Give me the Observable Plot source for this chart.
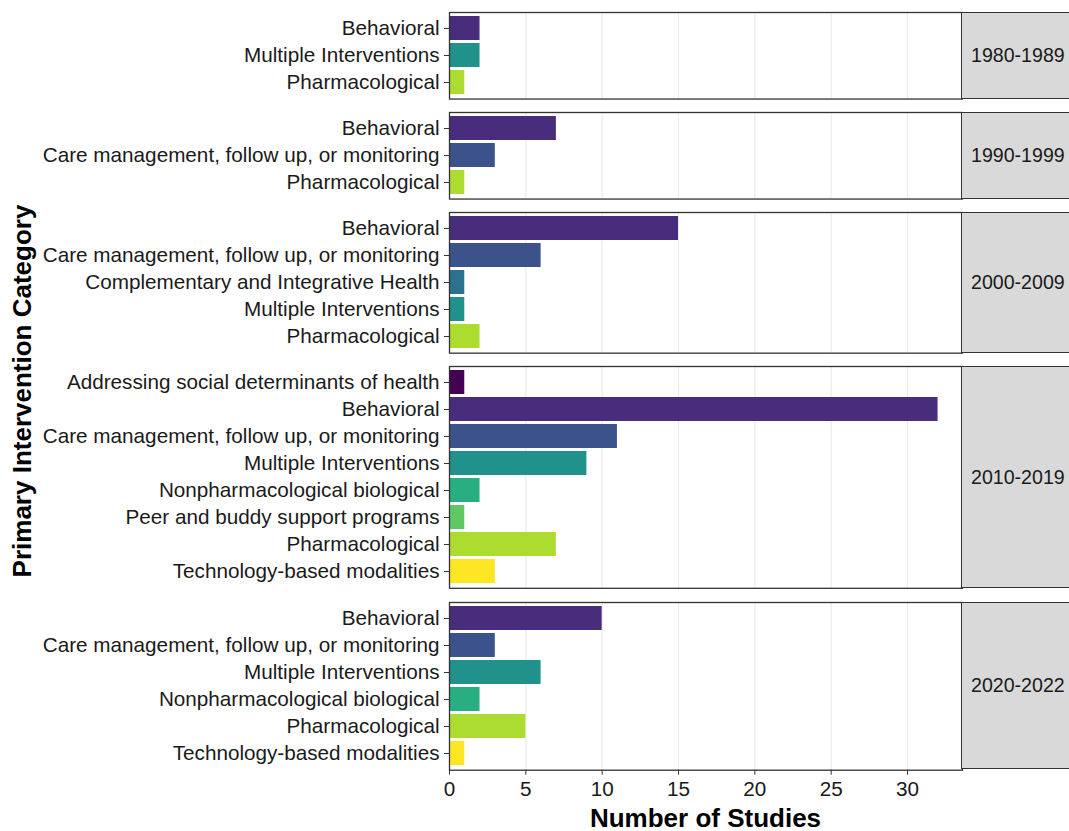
<!DOCTYPE html>
<html>
<head>
<meta charset="utf-8">
<script src="https://cdn.jsdelivr.net/npm/d3@7"></script>
<script src="https://cdn.jsdelivr.net/npm/@observablehq/plot@0.6"></script>
<style>
html, body { margin: 0; padding: 0; background: #fff; }
#chart { position: relative; width: 1069px; height: 831px; overflow: hidden;
  font-family: "Liberation Sans", Arial, sans-serif; background: #fff; }
#chart svg { position: absolute; left: 0; overflow: visible; }
.strip { position: absolute; background: #d9d9d9; border: 1.3px solid #333; box-sizing: border-box;
  display: flex; align-items: center; padding-left: 9px; font-size: 19.6px; color: #1a1a1a; white-space: nowrap; }
.ytitle { position: absolute; font-weight: bold; font-size: 26px; color: #000; white-space: nowrap;
  transform: translate(-50%, -50%) rotate(-90deg); }
.xtitle { position: absolute; font-weight: bold; font-size: 26px; color: #000; white-space: nowrap;
  transform: translate(-50%, -50%); }
</style>
</head>
<body>
<div id="chart"></div>
<script>
// ---- Data ----
const periods = ["1980-1989", "1990-1999", "2000-2009", "2010-2019", "2020-2022"];
const allCategories = [
  "Addressing social determinants of health",
  "Behavioral",
  "Care management, follow up, or monitoring",
  "Complementary and Integrative Health",
  "Multiple Interventions",
  "Nonpharmacological biological",
  "Peer and buddy support programs",
  "Pharmacological",
  "Technology-based modalities"
];
const categories1980 = ["Behavioral", "Multiple Interventions", "Pharmacological"];
const counts1980 = [2, 2, 1];
const categories1990 = ["Behavioral", "Care management, follow up, or monitoring", "Pharmacological"];
const counts1990 = [7, 3, 1];
const categories2000 = ["Behavioral", "Care management, follow up, or monitoring", "Complementary and Integrative Health", "Multiple Interventions", "Pharmacological"];
const counts2000 = [15, 6, 1, 1, 2];
const categories2010 = ["Addressing social determinants of health", "Behavioral", "Care management, follow up, or monitoring", "Multiple Interventions", "Nonpharmacological biological", "Peer and buddy support programs", "Pharmacological", "Technology-based modalities"];
const counts2010 = [1, 32, 11, 9, 2, 1, 7, 3];
const categories2020 = ["Behavioral", "Care management, follow up, or monitoring", "Multiple Interventions", "Nonpharmacological biological", "Pharmacological", "Technology-based modalities"];
const counts2020 = [10, 3, 6, 2, 5, 1];
const xTicks = [0, 5, 10, 15, 20, 25, 30];
const xTitle = "Number of Studies";
const yTitle = "Primary Intervention Category";

const periodCategories = [categories1980, categories1990, categories2000, categories2010, categories2020];
const periodCounts = [counts1980, counts1990, counts2000, counts2010, counts2020];

// ---- Layout ----
(function () {
const chart = document.getElementById("chart");
const panelLeft = 449, panelRight = 962;
const step = 27.05, gap = 13.5;
let panelTop = 12;
const xMax = d3.max(periodCounts.flat()) * 1.05;

periods.forEach((period, i) => {
  const cats = periodCategories[i];
  const rows = cats.map((c, j) => ({category: c, count: periodCounts[i][j]}));
  const h = step * (cats.length + 0.2);
  const isLast = i === periods.length - 1;
  const mt = 2, mb = isLast ? 45 : 2;
  const marks = [
    Plot.gridX(xTicks, {stroke: "#ebebeb", strokeOpacity: 1, strokeWidth: 1.2}),
    Plot.barX(rows, {x: "count", y: "category", fill: "category"}),
    Plot.frame({stroke: "#333", strokeWidth: 1.3}),
    Plot.axisY({tickSize: 5, tickPadding: 5, fontSize: 20.7, label: null, stroke: "#333", fill: "#1a1a1a"})
  ];
  if (isLast) marks.push(Plot.axisX(xTicks, {tickSize: 5, tickPadding: 6, fontSize: 20.7, label: null, stroke: "#333", fill: "#1a1a1a"}));
  const svg = Plot.plot({
    width: panelRight, height: h + mt + mb,
    marginLeft: panelLeft, marginRight: 0, marginTop: mt, marginBottom: mb,
    style: {fontFamily: "'Liberation Sans', Arial, sans-serif", background: "transparent", color: "#1a1a1a"},
    x: {domain: [0, xMax], axis: isLast ? undefined : null},
    y: {domain: cats, paddingInner: 0.1, paddingOuter: 0.15},
    color: {domain: allCategories, scheme: "viridis"},
    marks
  });
  svg.style.top = (panelTop - mt) + "px";
  chart.appendChild(svg);

  const strip = document.createElement("div");
  strip.className = "strip";
  strip.style.left = (panelRight - 1) + "px";
  strip.style.top = panelTop + "px";
  strip.style.width = "130px";
  strip.style.height = h + "px";
  strip.textContent = period;
  chart.appendChild(strip);

  panelTop += h + gap;
});

const yt = document.createElement("div");
yt.className = "ytitle";
yt.style.left = "22px";
yt.style.top = "391px";
yt.textContent = yTitle;
chart.appendChild(yt);

const xt = document.createElement("div");
xt.className = "xtitle";
xt.style.left = ((panelLeft + panelRight) / 2) + "px";
xt.style.top = "818px";
xt.textContent = xTitle;
chart.appendChild(xt);
})();
</script>
</body>
</html>
